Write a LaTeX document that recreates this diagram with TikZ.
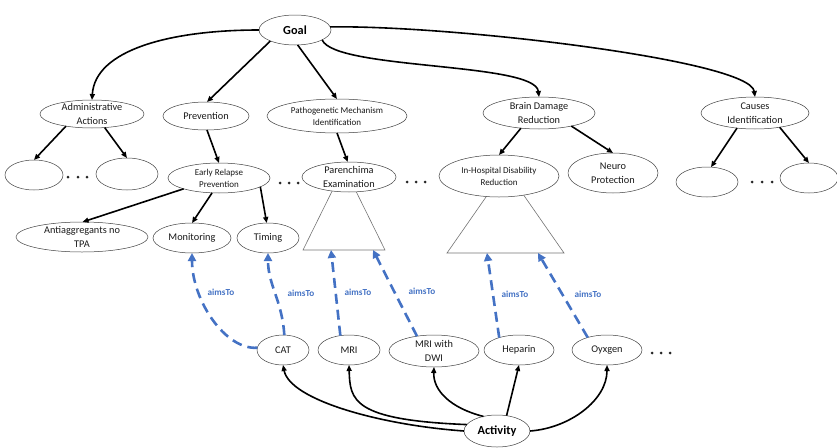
\documentclass[tikz,border=0pt]{standalone}
\usepackage{fontspec}
\setmainfont{Carlito}
\usetikzlibrary{shapes.geometric,arrows.meta}
\definecolor{aimblue}{HTML}{4472C4}
\definecolor{inkgray}{HTML}{1A1A1A}
\tikzset{
  ell/.style={ellipse, draw=black!75, line width=0.5pt, fill=white, inner sep=0pt, outer sep=0pt},
  sz/.style 2 args={minimum width=#1pt, minimum height=#2pt},
  txt/.style={align=center, text=inkgray, font=\fontsize{10.3}{14}\selectfont, inner sep=0pt},
  smalltxt/.style={align=center, text=inkgray, font=\fontsize{9}{12}\selectfont, inner sep=0pt},
  bigtxt/.style={align=center, text=black, font=\fontsize{12.3}{14}\selectfont\bfseries, inner sep=0pt},
  link/.style={-{Triangle[length=6pt,width=5pt]}, line width=1.6pt, draw=black},
  aims/.style={-{Triangle[length=8pt,width=8pt]}, line width=2.6pt, draw=aimblue, dash pattern=on 10pt off 6pt},
  aimlbl/.style={font=\fontsize{9.2}{11}\selectfont\bfseries, text=aimblue, inner sep=0pt},
  trunk/.style={draw=black!55, line width=0.6pt},
  dot/.style={fill=black!85},
}
\begin{document}
\begin{tikzpicture}[x=1pt,y=-1pt]
\useasboundingbox (0,0) rectangle (837,447);

% sub-trees collapsed under two goals
\coordinate (t1top) at (344,167);
\coordinate (t1l) at (303,250);
\coordinate (t1r) at (385,250);
\draw[trunk] (t1top) -- (t1l) -- (t1r) -- cycle;
\coordinate (t1p) at (331,250);
\coordinate (t1q) at (373,250);
\coordinate (t2top) at (505.5,169);
\coordinate (t2l) at (447,253);
\coordinate (t2r) at (564,253);
\draw[trunk] (t2top) -- (t2l) -- (t2r) -- cycle;
\coordinate (t2p) at (487,253);
\coordinate (t2q) at (538,253);

% goal tree
\node[ell, sz={72}{30}, label={[bigtxt]center:Goal}] (goal) at (295,30) {};
\node[ell, sz={104}{28}, label={[txt]center:Administrative\\Actions}] (admin) at (92,114) {};
\node[ell, sz={86}{28}, label={[txt]center:Prevention}] (prev) at (206,116) {};
\node[ell, sz={140}{34}, label={[smalltxt]center:Pathogenetic Mechanism\\Identification}] (patho) at (337,116) {};
\node[ell, sz={112}{32}, label={[txt]center:Brain Damage\\Reduction}] (brain) at (539,113) {};
\node[ell, sz={108}{32}, label={[txt]center:Causes\\Identification}] (causes) at (755,113) {};

\node[ell, sz={58}{30}] (e1) at (34,175) {};
\node[ell, sz={62}{32}] (e2) at (127,174) {};
\node[ell, sz={102}{30}, label={[smalltxt]center:Early Relapse\\Prevention}] (early) at (219,178) {};
\node[ell, sz={94}{30}, label={[txt]center:Parenchima\\Examination}] (paren) at (349,177) {};
\node[ell, sz={120}{42}, label={[smalltxt]center:In-Hospital Disability\\Reduction}] (inhosp) at (499,176) {};
\node[ell, sz={90}{40}, label={[txt]center:Neuro\\Protection}] (neuro) at (613,173) {};
\node[ell, sz={62}{30}] (e3) at (707,182) {};
\node[ell, sz={58}{30}] (e4) at (809,178) {};

\node[ell, sz={132}{30}, label={[txt]center:Antiaggregants no\\TPA}] (anti) at (82,237) {};
\node[ell, sz={78}{30}, label={[txt]center:Monitoring}] (monit) at (192,238) {};
\node[ell, sz={62}{30}, label={[txt]center:Timing}] (timing) at (268,238) {};

% activities
\node[ell, sz={52}{30}, label={[txt]center:CAT}] (cat) at (283,350) {};
\node[ell, sz={62}{30}, label={[txt]center:MRI}] (mri) at (349,350) {};
\node[ell, sz={90}{32}, label={[txt]center:MRI with\\DWI}] (dwi) at (434,351) {};
\node[ell, sz={70}{30}, label={[txt]center:Heparin}] (hep) at (519,350) {};
\node[ell, sz={70}{30}, label={[txt]center:Oyxgen}] (oxy) at (607,350) {};
\node[ell, sz={66}{32}, label={[bigtxt]center:Activity}] (act) at (497,431) {};

% ellipsis marks
\foreach \cx/\cy in {68/177,78/177,87/177, 280/183,289/183,298/183,
                     407/182,416/182,425/182, 752/182,762/182,772/182,
                     652/353,661/353,670/353}
  \fill[dot] (\cx,\cy) circle (1.5pt);

% decomposition links
\draw[link] (goal.west) .. controls (170,30) and (95,50) .. (admin.north);
\draw[link] (goal.-156) -- (prev.86);
\draw[link] (goal.-80) -- (patho.north);
\draw[link] (goal.-20) .. controls (335,70) and (535,62) .. (brain.north);
\draw[link] (goal.5) .. controls (450,25) and (750,60) .. (causes.north);
\draw[link] (admin.-155) -- (e1.north);
\draw[link] (admin.-47) -- (e2.north);
\draw[link] (prev.-86) -- (early.north);
\draw[link] (patho.south) -- (paren.95);
\draw[link] (early.-163) -- (anti.88);
\draw[link] (early.-115) -- (monit.north);
\draw[link] (early.-12) -- (timing.95);
\draw[link] (brain.-140) -- (inhosp.north);
\draw[link] (brain.-22) -- (neuro.north);
\draw[link] (causes.-140) -- (e3.75);
\draw[link] (causes.-30) -- (e4.north);

% activity links
\draw[link] (act.west) .. controls (380,425) and (290,400) .. (cat.south);
\draw[link] (act.168) .. controls (352,420) and (350,400) .. (mri.south);
\draw[link] (act.133) .. controls (450,408) and (433,390) .. (dwi.south);
\draw[link] (act.58) -- (hep.south);
\draw[link] (act.east) .. controls (570,428) and (607,400) .. (oxy.south);

% aimsTo relations
\draw[aims] (cat.175) .. controls (225,350) and (192,300) .. (monit.south);
\draw[aims] (cat.85) .. controls (282,300) and (268,285) .. (timing.south);
\draw[aims] (mri.121) -- (t1p);
\draw[aims] (dwi.139) -- (t1q);
\draw[aims] (hep.148) -- (t2p);
\draw[aims] (oxy.147) -- (t2q);

\node[aimlbl] (a1) at (221,292) {aimsTo};
\node[aimlbl] (a2) at (301,293) {aimsTo};
\node[aimlbl] (a3) at (358,292) {aimsTo};
\node[aimlbl] (a4) at (422,291) {aimsTo};
\node[aimlbl] (a5) at (515,294) {aimsTo};
\node[aimlbl] (a6) at (588,294) {aimsTo};
\end{tikzpicture}
\end{document}
